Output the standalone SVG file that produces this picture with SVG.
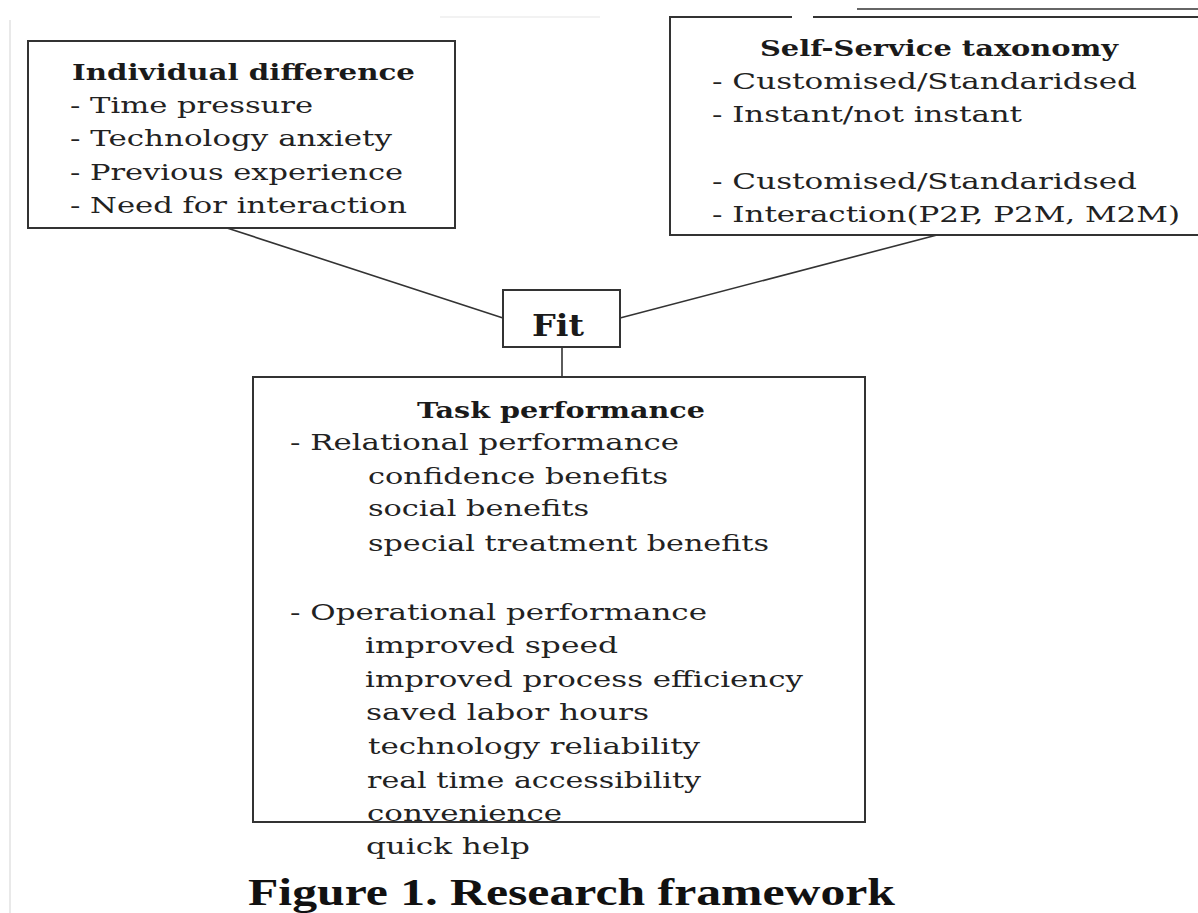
<svg xmlns="http://www.w3.org/2000/svg" width="1198" height="913" viewBox="0 0 1198 913">
<style>
.box{fill:none;stroke:#333;stroke-width:2}
.conn line{stroke:#333;stroke-width:1.6}
text{font-family:"DejaVu Serif","Liberation Serif",serif;font-size:23px;fill:#222}
.t{font-weight:bold;fill:#1a1a1a}
.fit{font-weight:bold;font-size:29px;fill:#1a1a1a}
.cap{font-family:"Liberation Serif","Times New Roman",serif;font-weight:bold;font-size:38px;fill:#111}
</style>
<rect width="1198" height="913" fill="#fff"/>
<g id="decor">
<line x1="10" y1="20" x2="10" y2="913" stroke="#e2e2e2" stroke-width="1.5"/>
<line x1="440" y1="17" x2="600" y2="17" stroke="#eee" stroke-width="1.5"/>
<line x1="857" y1="9" x2="1198" y2="9" stroke="#333" stroke-width="1.6"/>
</g>
<g class="conn" id="connectors">
<line x1="227" y1="228" x2="503" y2="318"/>
<line x1="937" y1="235" x2="620" y2="318"/>
<line x1="562" y1="347" x2="562" y2="377"/>
</g>
<g id="individual-difference">
<rect class="box" x="28" y="41" width="427" height="187"/>
<text class="t" x="72" y="80" textLength="343" lengthAdjust="spacingAndGlyphs">Individual difference</text>
<text x="70" y="113" textLength="243" lengthAdjust="spacingAndGlyphs">- Time pressure</text>
<text x="70" y="146" textLength="322" lengthAdjust="spacingAndGlyphs">- Technology anxiety</text>
<text x="70" y="180" textLength="333" lengthAdjust="spacingAndGlyphs">- Previous experience</text>
<text x="70" y="213" textLength="337" lengthAdjust="spacingAndGlyphs">- Need for interaction</text>
</g>
<g id="self-service-taxonomy">
<path class="box" d="M1200 17 H813 M792 17 H670 V235 H1200"/>
<text class="t" x="760" y="56" textLength="358" lengthAdjust="spacingAndGlyphs">Self-Service taxonomy</text>
<text x="712" y="89" textLength="425" lengthAdjust="spacingAndGlyphs">- Customised/Standaridsed</text>
<text x="712" y="122" textLength="310" lengthAdjust="spacingAndGlyphs">- Instant/not instant</text>
<text x="712" y="189" textLength="425" lengthAdjust="spacingAndGlyphs">- Customised/Standaridsed</text>
<text x="712" y="222" textLength="468" lengthAdjust="spacingAndGlyphs">- Interaction(P2P, P2M, M2M)</text>
</g>
<g id="fit">
<rect class="box" x="503" y="290" width="117" height="57"/>
<text class="fit" x="532" y="336" textLength="52" lengthAdjust="spacingAndGlyphs">Fit</text>
</g>
<g id="task-performance">
<rect class="box" x="253" y="377" width="612" height="445"/>
<text class="t" x="417" y="418" textLength="288" lengthAdjust="spacingAndGlyphs">Task performance</text>
<text x="290" y="450" textLength="389" lengthAdjust="spacingAndGlyphs">- Relational performance</text>
<text x="368" y="484" textLength="300" lengthAdjust="spacingAndGlyphs">confidence benefits</text>
<text x="368" y="516" textLength="221" lengthAdjust="spacingAndGlyphs">social benefits</text>
<text x="368" y="551" textLength="401" lengthAdjust="spacingAndGlyphs">special treatment benefits</text>
<text x="290" y="620" textLength="417" lengthAdjust="spacingAndGlyphs">- Operational performance</text>
<text x="365" y="653" textLength="253" lengthAdjust="spacingAndGlyphs">improved speed</text>
<text x="365" y="687" textLength="438" lengthAdjust="spacingAndGlyphs">improved process efficiency</text>
<text x="366" y="720" textLength="283" lengthAdjust="spacingAndGlyphs">saved labor hours</text>
<text x="368" y="754" textLength="332" lengthAdjust="spacingAndGlyphs">technology reliability</text>
<text x="367" y="788" textLength="334" lengthAdjust="spacingAndGlyphs">real time accessibility</text>
<text x="367" y="821" textLength="195" lengthAdjust="spacingAndGlyphs">convenience</text>
<text x="366" y="854" textLength="164" lengthAdjust="spacingAndGlyphs">quick help</text>
</g>
<text class="cap" x="248" y="905" textLength="647" lengthAdjust="spacingAndGlyphs">Figure 1. Research framework</text>
</svg>
